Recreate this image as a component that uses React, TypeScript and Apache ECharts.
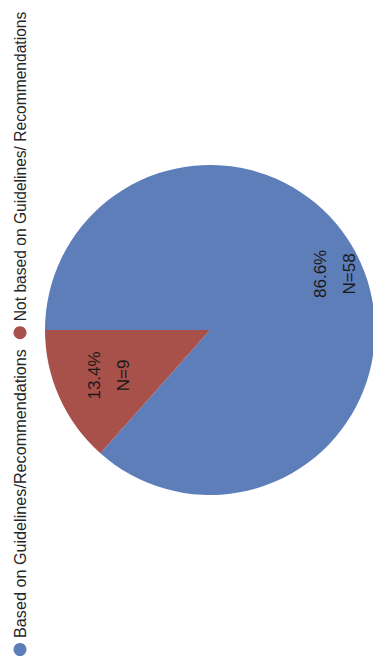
import React, { useEffect, useRef } from "react";
import * as echarts from "echarts";

const categories = [
  "Based on Guidelines/Recommendations",
  "Not based on Guidelines/ Recommendations",
];
const counts = [58, 9];
const sliceColors = ["#5d7eb9", "#a8504a"];
const labelRadius = [137, 111];
const legendFontSizes = [16.2, 15.6];

const W = 670;
const H = 373;
const CX = 340;
const CY = 210;
const R = 165;

export default function App() {
  const ref = useRef<HTMLDivElement>(null);

  useEffect(() => {
    if (!ref.current) return;
    const chart = echarts.init(ref.current, undefined, {
      renderer: "svg",
      width: W,
      height: H,
    });
    const font = "'Liberation Sans', Arial, Helvetica, sans-serif";
    chart.setOption({
      animation: false,
      backgroundColor: "#ffffff",
      color: sliceColors,
      legend: {
        orient: "horizontal",
        left: 14,
        top: 12,
        width: 900,
        padding: 0,
        icon: "circle",
        itemWidth: 13,
        itemHeight: 13,
        itemGap: 10,
        data: categories.map((name, i) => ({
          name,
          textStyle: { fontSize: legendFontSizes[i] },
        })),
        textStyle: { fontSize: 16, color: "#262626", fontFamily: font },
      },
      series: [
        {
          type: "pie",
          center: [CX, CY],
          radius: [0, R],
          startAngle: 90,
          clockwise: true,
          percentPrecision: 1,
          itemStyle: { borderWidth: 0 },
          emphasis: { disabled: true },
          label: {
            show: true,
            position: "inside",
            formatter: (p: any) => `${p.percent.toFixed(1)}%\nN=${p.value}`,
            fontSize: 17,
            lineHeight: 29,
            color: "#1a1a1a",
            fontFamily: font,
          },
          labelLayout: (params: any) => {
            const rc = params.labelRect;
            const lx = rc.x + rc.width / 2;
            const ly = rc.y + rc.height / 2;
            const vx = lx - CX;
            const vy = ly - CY;
            const d = Math.hypot(vx, vy) || 1;
            const s = labelRadius[params.dataIndex] / d;
            return { dx: vx * (s - 1), dy: vy * (s - 1) };
          },
          data: categories.map((name, i) => ({ name, value: counts[i] })),
        },
      ],
    });
    return () => chart.dispose();
  }, []);

  return (
    <div
      style={{
        position: "fixed",
        left: 0,
        top: 0,
        width: H,
        height: W,
        overflow: "hidden",
        background: "#ffffff",
      }}
    >
      <div
        ref={ref}
        style={{
          position: "absolute",
          left: 0,
          top: 0,
          width: W,
          height: H,
          transformOrigin: "0 0",
          transform: `translate(0px, ${W}px) rotate(-90deg)`,
        }}
      />
    </div>
  );
}
